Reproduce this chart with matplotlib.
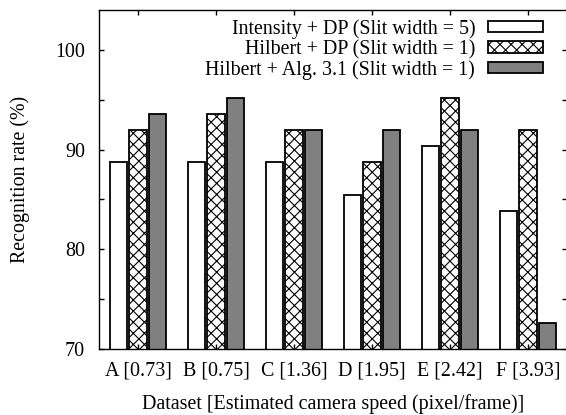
import matplotlib
matplotlib.use("Agg")
import matplotlib.pyplot as plt
import numpy as np
from matplotlib.patches import Patch

# recognition rates (%)
datasets = ["A [0.73]", "B [0.75]", "C [1.36]", "D [1.95]", "E [2.42]", "F [3.93]"]
intensity_dp = [88.71, 88.71, 88.71, 85.48, 90.32, 83.87]
hilbert_dp = [91.94, 93.55, 91.94, 88.71, 95.16, 91.94]
hilbert_alg = [93.55, 95.16, 91.94, 91.94, 91.94, 72.58]
series_labels = [
    "Intensity + DP (Slit width = 5)",
    "Hilbert + DP (Slit width = 1)",
    "Hilbert + Alg. 3.1 (Slit width = 1)",
]

plt.rcParams["font.family"] = ["Liberation Serif", "DejaVu Serif"]
plt.rcParams["font.size"] = 14.4
plt.rcParams["hatch.linewidth"] = 0.8

fig = plt.figure(figsize=(5.66, 4.15), dpi=100)
ax = fig.add_axes([99 / 566, 66 / 415, 468 / 566, 339 / 415])

x = np.arange(len(datasets))
pitch = 0.25
width = 0.22
edge = dict(edgecolor="black", linewidth=1.3)

ax.bar(x - pitch, intensity_dp, width, color="white", **edge)
ax.bar(x, hilbert_dp, width, color="white", hatch="xxx", **edge)
ax.bar(x + pitch, hilbert_alg, width, color="#808080", **edge)

ax.set_xlim(-0.5, 5.5)
ax.set_ylim(70, 104)
ax.set_xticks(x)
ax.set_xticklabels(datasets)
ax.set_yticks([70, 80, 90, 100])
ax.set_yticks([75, 85, 95], minor=True)
ax.tick_params(which="both", direction="in", length=3.6, width=1.0,
               top=True, right=True)
ax.tick_params(axis="x", pad=9)
ax.tick_params(axis="y", pad=10)

for s in ax.spines.values():
    s.set_linewidth(1.0)

ax.set_ylabel("Recognition rate (%)", labelpad=18)
ax.set_xlabel("Dataset [Estimated camera speed (pixel/frame)]", labelpad=10)

handles = [
    Patch(facecolor="white", **edge),
    Patch(facecolor="white", hatch="xxx", **edge),
    Patch(facecolor="#808080", **edge),
]
ax.legend(handles, series_labels, loc="upper right",
          bbox_to_anchor=(0.949, 0.973), frameon=False, markerfirst=False,
          borderpad=0, borderaxespad=0, handlelength=2.75, handleheight=0.5,
          handletextpad=0.65, labelspacing=0.05)

fig.savefig("out.png", dpi=100)
